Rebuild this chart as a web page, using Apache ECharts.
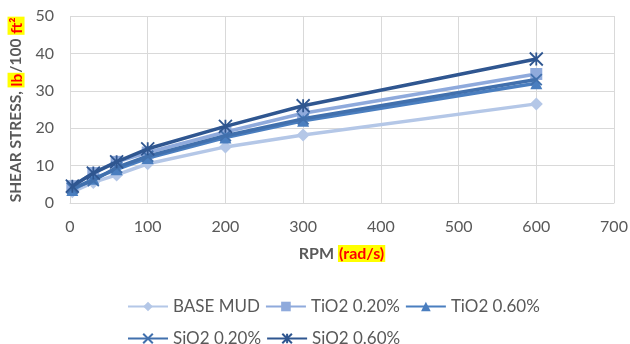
<!DOCTYPE html>
<html>
<head>
<meta charset="utf-8">
<script src="https://cdn.jsdelivr.net/npm/echarts@6/dist/echarts.min.js"></script>
<style>
  html, body { margin: 0; padding: 0; background: #fff; }
  #chart { width: 630px; height: 344px; }
</style>
</head>
<body>
<div id="chart"></div>
<script>
// Rotational speeds (RPM) and measured shear stress (lb/100 ft²)
const rpm = [3, 30, 60, 100, 200, 300, 600];
const baseMud = [3.0, 5.5, 7.5, 10.5, 15.0, 18.2, 26.5];
const tio2Low = [4.5, 8.0, 11.0, 13.5, 19.0, 24.0, 34.5];
const tio2High = [3.5, 6.5, 9.0, 12.0, 17.5, 22.0, 32.0];
const sio2Low = [4.0, 6.0, 9.5, 12.5, 18.0, 22.5, 33.0];
const sio2High = [4.5, 8.0, 11.0, 14.5, 20.5, 26.0, 38.5];
const seriesNames = ['BASE MUD', 'TiO2 0.20%', 'TiO2 0.60%', 'SiO2 0.20%', 'SiO2 0.60%'];
const xTicks = { min: 0, max: 700, step: 100 };
const yTicks = { min: 0, max: 50, step: 10 };

const FONT = 'Lato, "Open Sans", sans-serif';
const TEXT = '#595959';
const GRID = '#d9d9d9';

const CROSS = 'path://M0,0L10,10M10,0L0,10';
const ASTERISK = 'path://M0,0L10,10M10,0L0,10M5,0L5,10';

const styles = [
  { color: '#b4c7e7', symbol: 'diamond', size: 13, stroke: false },
  { color: '#8faadc', symbol: 'rect', size: 12, stroke: false },
  { color: '#4a7ebf', symbol: 'triangle', size: 12, stroke: false },
  { color: '#4170ad', symbol: CROSS, size: 11, stroke: true },
  { color: '#2f5690', symbol: ASTERISK, size: 13, stroke: true }
];
const values = [baseMud, tio2Low, tio2High, sio2Low, sio2High];

const series = seriesNames.map((name, i) => {
  const st = styles[i];
  return {
    name: name,
    type: 'line',
    data: rpm.map((x, j) => [x, values[i][j]]),
    symbol: st.symbol,
    symbolSize: st.size,
    showAllSymbol: true,
    lineStyle: { color: st.color, width: 3.5 },
    itemStyle: st.stroke
      ? { color: st.color, borderColor: st.color, borderWidth: 1.8 }
      : { color: st.color, borderWidth: 0 },
    emphasis: { disabled: true },
    animation: false,
    z: 2 + i
  };
});

const legendBase = {
  itemWidth: 40,
  itemHeight: 12,
  itemGap: 5,
  padding: 0,
  textStyle: { fontFamily: FONT, fontSize: 17, color: TEXT, width: 82 },
  selectedMode: false
};

const option = {
  backgroundColor: '#fff',
  animation: false,
  grid: { left: 70, right: 16, top: 16, bottom: 141, containLabel: false, outerBoundsMode: 'none' },
  xAxis: {
    type: 'value',
    min: xTicks.min,
    max: xTicks.max,
    interval: xTicks.step,
    axisLine: { show: true, lineStyle: { color: GRID, width: 1 } },
    axisTick: { show: false },
    splitLine: { show: true, lineStyle: { color: GRID, width: 1 } },
    axisLabel: { fontFamily: FONT, fontSize: 16, color: TEXT, margin: 16 },
    name: 'RPM {hl|(rad/s)}',
    nameLocation: 'middle',
    nameGap: 42,
    nameTextStyle: {
      fontFamily: FONT, fontSize: 16, fontWeight: 'bold', color: TEXT,
      rich: {
        hl: { fontFamily: FONT, fontSize: 16, fontWeight: 'bold', color: '#ff0000', backgroundColor: '#ffff00', padding: [1, 1, 0, 1] }
      }
    }
  },
  yAxis: {
    type: 'value',
    min: yTicks.min,
    max: yTicks.max,
    interval: yTicks.step,
    axisLine: { show: false },
    axisTick: { show: false },
    splitLine: { show: true, lineStyle: { color: GRID, width: 1 } },
    axisLabel: { fontFamily: FONT, fontSize: 16, color: TEXT, margin: 16 },
    name: 'SHEAR STRESS, {hl|lb}/100 {hl|ft²}',
    nameLocation: 'middle',
    nameRotate: 90,
    nameGap: 45,
    nameTextStyle: {
      fontFamily: FONT, fontSize: 15.5, fontWeight: 'bold', color: TEXT,
      rich: {
        hl: { fontFamily: FONT, fontSize: 15.5, fontWeight: 'bold', color: '#ff0000', backgroundColor: '#ffff00', padding: [1, 1, 0, 1] }
      }
    }
  },
  legend: [
    Object.assign({}, legendBase, { left: 127, top: 298, data: seriesNames.slice(0, 3) }),
    Object.assign({}, legendBase, { left: 127, top: 330, data: seriesNames.slice(3) })
  ],
  series: series
};

const chart = echarts.init(document.getElementById('chart'), null, { renderer: 'canvas' });
chart.setOption(option);
</script>
</body>
</html>
